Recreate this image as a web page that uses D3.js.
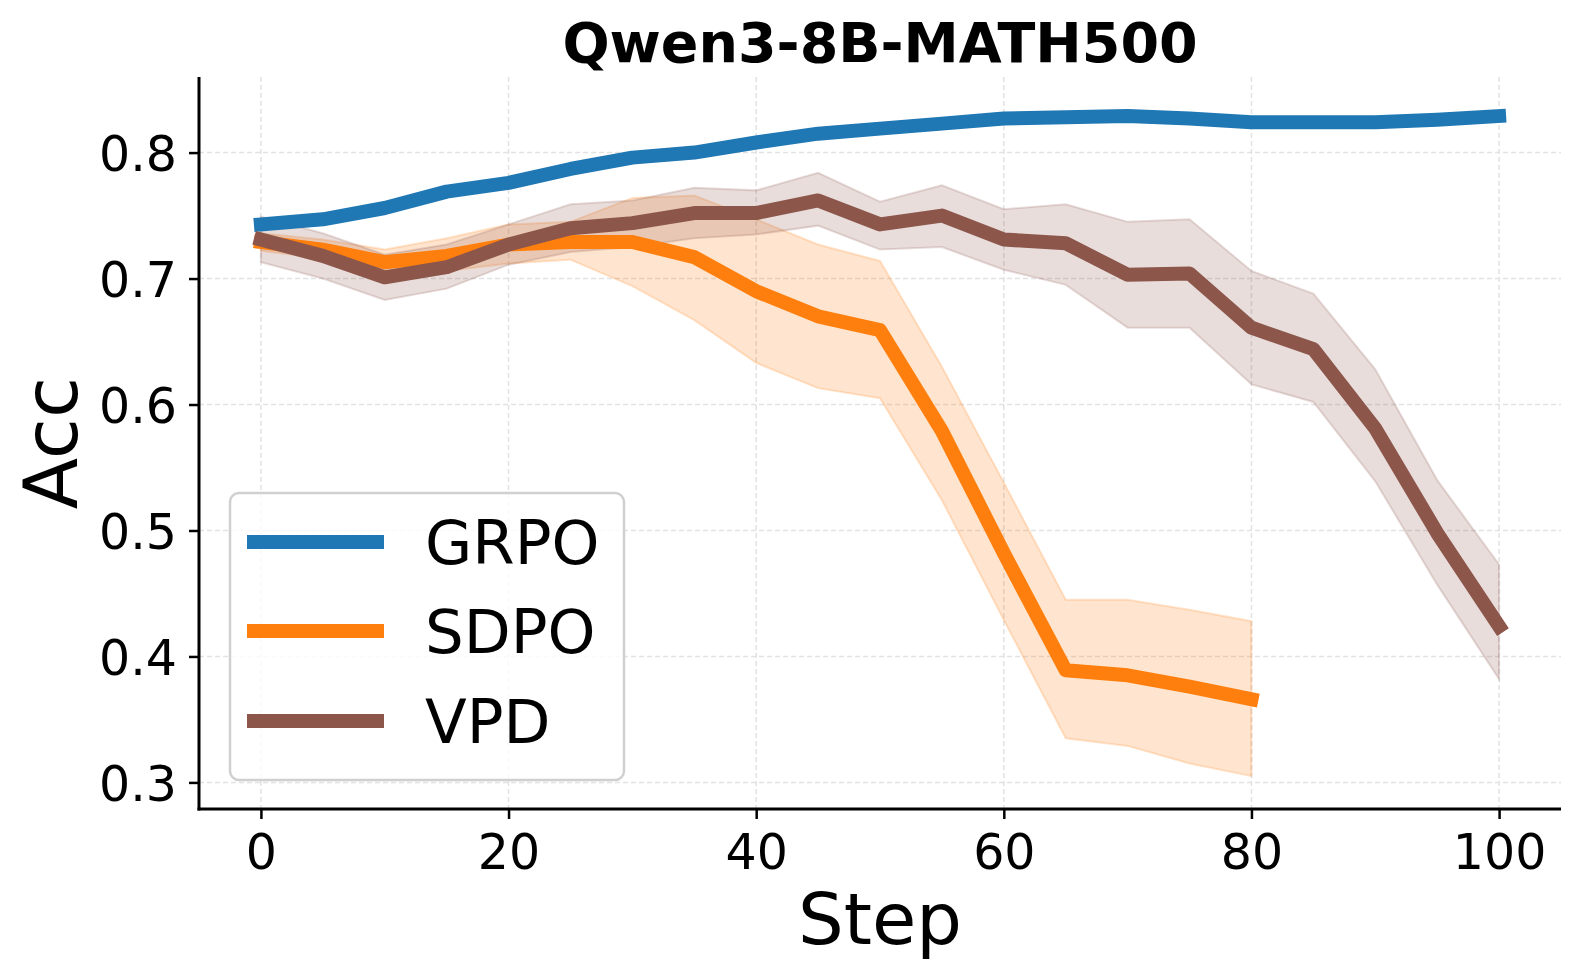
<!DOCTYPE html>
<html>
<head>
<meta charset="utf-8">
<script src="https://cdn.jsdelivr.net/npm/d3@7"></script>
<style>
    body { margin: 0; background: #ffffff; }
    text { font-family: "DejaVu Sans", sans-serif; fill: #000000; }
</style>
</head>
<body>
<svg id="chart" width="1580" height="978"></svg>
<script>
// values
var steps = [0, 5, 10, 15, 20, 25, 30, 35, 40, 45, 50, 55, 60, 65, 70, 75, 80, 85, 90, 95, 100];

var grpoMean = [0.743, 0.747, 0.756, 0.769, 0.776, 0.787, 0.796, 0.800, 0.808, 0.815, 0.819,
                0.823, 0.827, 0.828, 0.829, 0.827, 0.824, 0.824, 0.824, 0.826, 0.829];

var sdpoMean = [0.729, 0.723, 0.713, 0.718, 0.727, 0.729, 0.729, 0.717, 0.690, 0.670, 0.659,
                0.579, 0.482, 0.389, 0.385, 0.376, 0.366];
var sdpoLow  = [0.722, 0.716, 0.704, 0.706, 0.712, 0.715, 0.694, 0.667, 0.633, 0.613, 0.605,
                0.524, 0.429, 0.335, 0.329, 0.315, 0.305];
var sdpoHigh = [0.736, 0.731, 0.723, 0.732, 0.743, 0.745, 0.764, 0.766, 0.747, 0.727, 0.714,
                0.630, 0.538, 0.445, 0.445, 0.437, 0.428];

var vpdMean = [0.731, 0.718, 0.701, 0.709, 0.727, 0.740, 0.744, 0.752, 0.752, 0.762, 0.743,
               0.750, 0.731, 0.728, 0.703, 0.704, 0.661, 0.644, 0.581, 0.498, 0.424];
var vpdLow  = [0.713, 0.700, 0.683, 0.692, 0.711, 0.721, 0.725, 0.732, 0.735, 0.742, 0.723,
               0.725, 0.707, 0.695, 0.661, 0.661, 0.616, 0.602, 0.539, 0.457, 0.382];
var vpdHigh = [0.749, 0.736, 0.719, 0.727, 0.743, 0.759, 0.762, 0.772, 0.770, 0.784, 0.761,
               0.774, 0.755, 0.759, 0.745, 0.747, 0.706, 0.688, 0.628, 0.540, 0.473];

var xTicks = [0, 20, 40, 60, 80, 100];
var yTicks = [0.3, 0.4, 0.5, 0.6, 0.7, 0.8];

var seriesNames = ["GRPO", "SDPO", "VPD"];
var seriesColors = ["#1f77b4", "#ff7f0e", "#8c564b"];

var svg = d3.select("#chart");
var box = { left: 199, right: 1561, top: 77, bottom: 809 };

var x = d3.scaleLinear().domain([-5, 105]).range([box.left, box.right]);
var y = d3.scaleLinear().domain([0.2789, 0.860]).range([box.bottom, box.top]);

// grid
svg.append("g").selectAll("line.vgrid").data(xTicks).enter()
        .append("line")
        .attr("x1", function(d) { return x(d); })
        .attr("x2", function(d) { return x(d); })
        .attr("y1", box.top)
        .attr("y2", box.bottom)
        .attr("stroke", "#e2e2e2")
        .attr("stroke-width", 1.5)
        .attr("stroke-dasharray", "5,3");
svg.append("g").selectAll("line.hgrid").data(yTicks).enter()
        .append("line")
        .attr("x1", box.left)
        .attr("x2", box.right)
        .attr("y1", function(d) { return y(d); })
        .attr("y2", function(d) { return y(d); })
        .attr("stroke", "#e2e2e2")
        .attr("stroke-width", 1.5)
        .attr("stroke-dasharray", "5,3");

function makeRows(mean, low, high) {
    return mean.map(function(v, i) {
        return { step: steps[i], mean: v, low: low ? low[i] : v, high: high ? high[i] : v };
    });
}

var series = [
    { rows: makeRows(grpoMean), band: false },
    { rows: makeRows(sdpoMean, sdpoLow, sdpoHigh), band: true },
    { rows: makeRows(vpdMean, vpdLow, vpdHigh), band: true }
];

var area = d3.area()
        .x(function(d) { return x(d.step); })
        .y0(function(d) { return y(d.low); })
        .y1(function(d) { return y(d.high); });
var line = d3.line()
        .x(function(d) { return x(d.step); })
        .y(function(d) { return y(d.mean); });

// bands underneath, then the mean lines on top
var plot = svg.append("g");
series.forEach(function(s, i) {
    if (!s.band) return;
    plot.append("path")
            .datum(s.rows)
            .attr("d", area)
            .attr("fill", seriesColors[i])
            .attr("fill-opacity", 0.2)
            .attr("stroke", seriesColors[i])
            .attr("stroke-opacity", 0.2)
            .attr("stroke-width", 2);
});
series.forEach(function(s, i) {
    plot.append("path")
            .datum(s.rows)
            .attr("d", line)
            .attr("fill", "none")
            .attr("stroke", seriesColors[i])
            .attr("stroke-width", 14)
            .attr("stroke-linejoin", "round")
            .attr("stroke-linecap", "square");
});

// axes
var xAxis = svg.append("g")
        .attr("transform", "translate(0," + box.bottom + ")")
        .call(d3.axisBottom(x).tickValues(xTicks).tickSize(10).tickPadding(14).tickFormat(d3.format("d")));
var yAxis = svg.append("g")
        .attr("transform", "translate(" + box.left + ",0)")
        .call(d3.axisLeft(y).tickValues(yTicks).tickSize(10).tickPadding(12).tickFormat(d3.format(".1f")));

[xAxis, yAxis].forEach(function(ax) {
    ax.select(".domain").remove();
    ax.selectAll(".tick line").attr("stroke", "#000").attr("stroke-width", 2.5);
    ax.selectAll(".tick text")
            .attr("font-size", "49px")
            .attr("font-family", "DejaVu Sans")
            .attr("fill", "#000");
});
xAxis.selectAll(".tick text").attr("dy", null).attr("y", 60);
yAxis.selectAll(".tick text").attr("dy", "0.36em");

svg.append("line")
        .attr("x1", box.left).attr("x2", box.left)
        .attr("y1", box.top).attr("y2", box.bottom + 1.5)
        .attr("stroke", "#000").attr("stroke-width", 3);
svg.append("line")
        .attr("x1", box.left - 1.5).attr("x2", box.right)
        .attr("y1", box.bottom).attr("y2", box.bottom)
        .attr("stroke", "#000").attr("stroke-width", 3);

// labels
svg.append("text")
        .attr("x", (box.left + box.right) / 2)
        .attr("y", 62)
        .attr("text-anchor", "middle")
        .attr("font-size", "55.5px")
        .attr("font-weight", "bold")
        .text("Qwen3-8B-MATH500");
svg.append("text")
        .attr("x", (box.left + box.right) / 2)
        .attr("y", 944)
        .attr("text-anchor", "middle")
        .attr("font-size", "72px")
        .text("Step");
svg.append("text")
        .attr("transform", "translate(77," + ((box.top + box.bottom) / 2) + ") rotate(-90)")
        .attr("text-anchor", "middle")
        .attr("font-size", "75px")
        .text("Acc");

// legend
var legend = svg.append("g");
legend.append("rect")
        .attr("x", 230)
        .attr("y", 493)
        .attr("width", 394)
        .attr("height", 287)
        .attr("rx", 9)
        .attr("fill", "#ffffff")
        .attr("fill-opacity", 0.8)
        .attr("stroke", "#d0d0d0")
        .attr("stroke-width", 2.5);
var legendY = [542, 631, 721];
legend.selectAll(".legend-line").data(seriesNames).enter()
        .append("line")
        .attr("x1", 247)
        .attr("x2", 384)
        .attr("y1", function(d, i) { return legendY[i]; })
        .attr("y2", function(d, i) { return legendY[i]; })
        .attr("stroke", function(d, i) { return seriesColors[i]; })
        .attr("stroke-width", 14);
legend.selectAll(".legend-text").data(seriesNames).enter()
        .append("text")
        .attr("x", 425)
        .attr("y", function(d, i) { return legendY[i] + 22; })
        .attr("font-size", "61px")
        .text(function(d) { return d; });
</script>
</body>
</html>
